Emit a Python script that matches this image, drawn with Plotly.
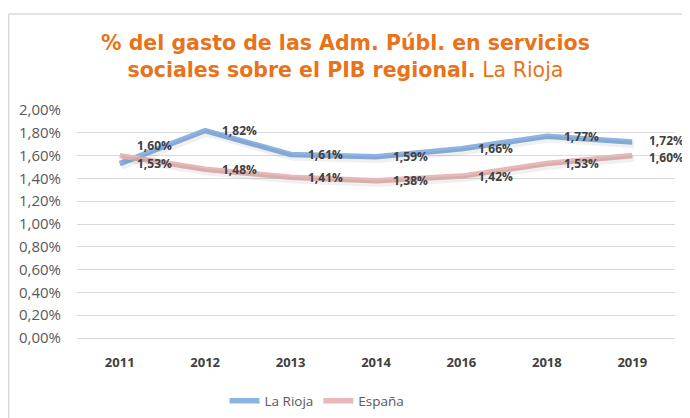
import plotly.graph_objects as go

years = ["2011", "2012", "2013", "2014", "2016", "2018", "2019"]
la_rioja = [1.53, 1.82, 1.61, 1.59, 1.66, 1.77, 1.72]
espana = [1.60, 1.48, 1.41, 1.38, 1.42, 1.53, 1.60]
# data labels as printed on the chart
rioja_labels = ["1,60%", "1,82%", "1,61%", "1,59%", "1,66%", "1,77%", "1,72%"]
espana_labels = ["1,53%", "1,48%", "1,41%", "1,38%", "1,42%", "1,53%", "1,60%"]
y_ticks = [0.0, 0.2, 0.4, 0.6, 0.8, 1.0, 1.2, 1.4, 1.6, 1.8, 2.0]

BLUE = "#8DB3E2"
PINK = "#E6B9B8"
ORANGE = "#E8731A"
LABEL = "#404040"
GRID = "#D9D9D9"

# page body has an 8px margin: figure is laid out in reference pixels minus 8
OFF = 8
W, H = 690 - OFF, 418 - OFF
PL, PR, PT, PB = 77, 675, 110, 338  # plot area in reference pixels
YMAX = 2.0
SHADOW_DY = 3 * YMAX / (PB - PT)   # 3 px downward shadow offset, in axis units
SHADOW_DX = 2 * 7 / (PR - PL)      # 2 px rightward offset, in category units


def px(x):
    return (x - PL) / (PR - PL)


def py(y):
    return (PB - y) / (PB - PT)


fig = go.Figure()
# soft drop shadows drawn on an overlaid, slightly shifted axis pair
for vals in (la_rioja, espana):
    fig.add_trace(go.Scatter(x=years, y=vals, mode="lines", xaxis="x2", yaxis="y2",
                             showlegend=False, hoverinfo="skip",
                             line=dict(color="rgba(0,0,0,0.06)", width=6.5)))
fig.add_trace(go.Scatter(x=years, y=la_rioja, mode="lines", name="La Rioja",
                         line=dict(color=BLUE, width=5.5)))
fig.add_trace(go.Scatter(x=years, y=espana, mode="lines", name="España",
                         line=dict(color=PINK, width=5.5)))

lab_font = dict(family="Open Sans", size=12, color=LABEL, weight="bold")
annotations = []
for i, yr in enumerate(years):
    hi = max(la_rioja[i], espana[i])
    lo = min(la_rioja[i], espana[i])
    crossed = espana[i] > la_rioja[i]
    close = abs(la_rioja[i] - espana[i]) < 0.14 and not crossed
    annotations.append(dict(x=i, y=hi, text=rioja_labels[i], showarrow=False,
                            xanchor="left", yanchor="middle", xshift=15,
                            yshift=10 if crossed else (1.5 if close else 0), font=lab_font))
    annotations.append(dict(x=i, y=lo if crossed else espana[i], text=espana_labels[i],
                            showarrow=False, xanchor="left", yanchor="middle", xshift=15,
                            yshift=-1.5 if close else 0, font=lab_font))

annotations.append(dict(xref="paper", yref="paper", x=px(345), y=py(56.5),
                        xanchor="center", yanchor="middle", showarrow=False, align="center",
                        text=("<b>% del gasto de las Adm. Públ. en servicios</b><br>"
                              "<b>sociales sobre el PIB regional.</b> La Rioja"),
                        font=dict(family="DejaVu Sans", size=20.5, color=ORANGE)))

fig.update_layout(
    width=W, height=H,
    margin=dict(l=PL - OFF, r=W - (PR - OFF), t=PT - OFF, b=H - (PB - OFF), autoexpand=False),
    paper_bgcolor="white", plot_bgcolor="white",
    showlegend=True,
    legend=dict(orientation="h", x=px(317), y=py(401),
                xanchor="center", yanchor="middle",
                font=dict(family="Open Sans", size=13.5, color="#595959"),
                tracegroupgap=0),
    annotations=annotations,
    xaxis2=dict(overlaying="x", type="category", range=[-0.5 - SHADOW_DX, 6.5 - SHADOW_DX],
                visible=False),
    yaxis2=dict(overlaying="y", range=[SHADOW_DY, YMAX + SHADOW_DY], visible=False),
    shapes=[
        dict(type="line", xref="paper", yref="paper", x0=px(8.7), x1=px(700),
             y0=py(14), y1=py(14), line=dict(color="#D9D9D9", width=1.5)),
        dict(type="line", xref="paper", yref="paper", x0=px(8.7), x1=px(8.7),
             y0=py(14), y1=py(430), line=dict(color="#D9D9D9", width=1.5)),
    ],
)
fig.update_layout(
    xaxis=dict(type="category", range=[-0.5, 6.5], showgrid=False, showline=True,
               linecolor=GRID, linewidth=1, ticks="", ticklabelstandoff=12,
               tickfont=dict(family="Open Sans", size=13, color=LABEL, weight="bold")),
    yaxis=dict(range=[0, YMAX], tickmode="array", tickvals=y_ticks,
               ticktext=[f"{v:.2f}%".replace(".", ",") for v in y_ticks],
               showgrid=True, gridcolor=GRID, gridwidth=1, zeroline=False,
               showline=False, ticks="", ticklabelstandoff=15,
               tickfont=dict(family="Open Sans", size=15, color="#595959")),
)

fig.write_html("out.html")
